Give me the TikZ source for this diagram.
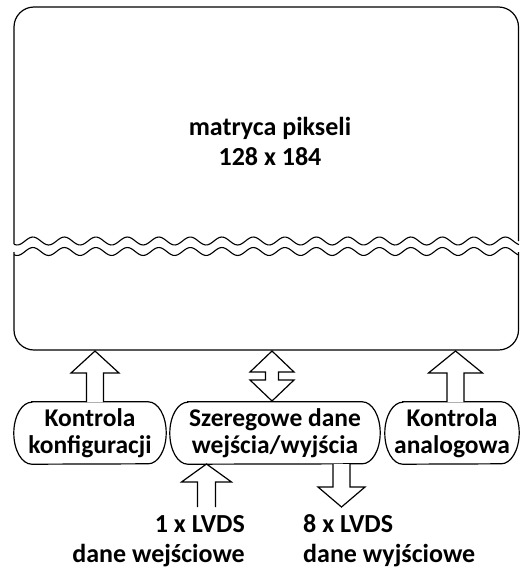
\documentclass[tikz,border=0pt]{standalone}
\usepackage{fontspec}
\setmainfont{Carlito}
\newcommand\blkarrow[6]{\draw[blk] (#1-#6,#4) -- (#1-#6,#3) -- (#1-#5,#3) -- (#1,#2) -- (#1+#5,#3) -- (#1+#6,#3) -- (#1+#6,#4);}
\begin{document}
\begin{tikzpicture}[x=1pt,y=-1pt,
  outl/.style={draw=black, line width=1.2pt},
  blk/.style={draw=black, line width=1.2pt, fill=white, line join=miter},
  lbl/.style={font=\bfseries\fontsize{25.5}{27}\selectfont, align=center, inner sep=0pt},
  bigtxt/.style={font=\bfseries\fontsize{26}{30}\selectfont, align=center, inner sep=0pt},
  iotxt/.style={font=\bfseries\fontsize{26}{30}\selectfont, inner sep=0pt}]
\useasboundingbox (0,0) rectangle (520,568);
% main pixel matrix box, broken by wavy lines
\draw[outl, rounded corners=20pt] (14,244) -- (14,7) -- (518.5,7) -- (518.5,241);
\draw[outl, rounded corners=20pt] (14,252) -- (14,350) -- (518.5,350) -- (518.5,252);
\draw[black, line width=1.1pt] plot[domain=14:519, samples=220, smooth]
  (\x, {241 - 4*sin((\x-25)/31.5*360)});
\draw[black, line width=1.1pt] plot[domain=14:519, samples=220, smooth]
  (\x, {251.5 - 4*sin((\x-25)/31.5*360)});
\node[bigtxt, anchor=base] (matrix) at (270,165) {matryca pikseli\\128 x 184};
% bottom nodes
\node[lbl, minimum width=152pt, minimum height=62pt] (kk) at (90,433) {Kontrola\\konfiguracji};
\node[lbl, minimum width=210pt, minimum height=62pt] (sd) at (275,433) {Szeregowe dane\\wejścia/wyjścia};
\node[lbl, minimum width=134pt, minimum height=62pt] (ka) at (452,433) {Kontrola\\analogowa};
\foreach \n in {kk,sd,ka}{
  \draw[outl] ([xshift=18pt]\n.north west) -- ([xshift=-18pt]\n.north east)
    arc[start angle=90, end angle=-90, x radius=18pt, y radius=31pt]
    -- ([xshift=18pt]\n.south west)
    arc[start angle=270, end angle=90, x radius=18pt, y radius=31pt] -- cycle;
}
% block arrows
\blkarrow{95}{351}{373}{402}{24}{8.5}
\blkarrow{455.5}{351}{373}{402}{27}{8.5}
\draw[blk] (272,351) -- (294,372) -- (278.5,372) -- (278.5,380) -- (294,380) -- (272,401)
  -- (250,380) -- (265.5,380) -- (265.5,372) -- (250,372) -- cycle;
\blkarrow{206.5}{464}{482}{507}{25}{9}
\blkarrow{341.5}{507}{487}{464}{23.5}{8.5}
% io labels
\node[iotxt, align=right, anchor=base east] (lin) at (245,562) {1 x LVDS\\dane wejściowe};
\node[iotxt, align=left, anchor=base west] (lout) at (303,562) {8 x LVDS\\dane wyjściowe};
\end{tikzpicture}
\end{document}
